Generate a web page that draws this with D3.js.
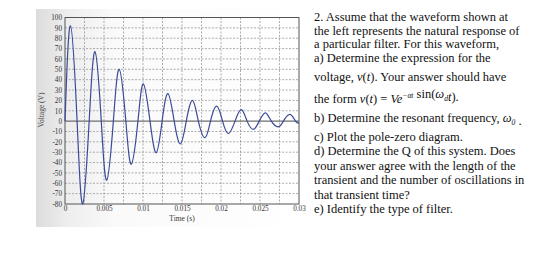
<!DOCTYPE html>
<html>
<head>
<meta charset="utf-8">
<script src="https://cdn.jsdelivr.net/npm/d3@7"></script>
<style>
  body { margin: 0; background: #fff; }
  svg { display: block; }
</style>
</head>
<body>
<script>
// waveform: time in ms, voltage in V (peaks, troughs, zero crossings)
const timeMs = [0, 0.7, 1.55, 2.27, 3.1, 3.85, 4.65, 5.35, 6.2, 6.95, 7.8, 8.5, 9.35, 10.05,
  10.9, 11.7, 12.45, 13.2, 14.0, 14.8, 15.55, 16.35, 17.1, 17.95, 18.65, 19.45, 20.2, 20.95,
  21.8, 22.6, 23.35, 24.15, 24.9, 25.7, 26.45, 27.35, 28.0, 28.85, 29.55, 30];
const voltage = [0, 92, 0, -80, 0, 67, 0, -57, 0, 50, 0, -41.5, 0, 36,
  0, -30.5, 0, 26.5, 0, -22, 0, 20, 0, -16, 0, 14.5, 0, -12,
  0, 11, 0, -8, 0, 8, 0, -5.5, 0, 6.5, 0, -2];

const xTicks = [0, 0.005, 0.01, 0.015, 0.02, 0.025, 0.03];
const xTickLabels = ["0", "0.005", "0.01", "0.015", "0.02", "0.025", "0.03"];
const yTicks = [100, 90, 80, 70, 60, 50, 40, 30, 20, 10, 0, -10, -20, -30, -40, -50, -60, -70, -80];

const width = 560, height = 267;
const plot = { left: 65, right: 299, top: 17.5, bottom: 204 };

const svg = d3.select("body").append("svg")
  .attr("width", width)
  .attr("height", height);

// scanned page shading on the left
const defs = svg.append("defs");
const grad = defs.append("linearGradient").attr("id", "shade");
grad.append("stop").attr("offset", "0").attr("stop-color", "#dcdcdc");
grad.append("stop").attr("offset", "0.12").attr("stop-color", "#eeeeee");
grad.append("stop").attr("offset", "0.3").attr("stop-color", "#fafafa");
grad.append("stop").attr("offset", "1").attr("stop-color", "#ffffff");
svg.append("rect")
  .attr("x", 36).attr("y", 9)
  .attr("width", 266).attr("height", 218)
  .attr("fill", "url(#shade)");

const x = d3.scaleLinear().domain([0, 0.03]).range([plot.left, plot.right]);
const y = d3.scaleLinear().domain([-80, 100]).range([plot.bottom, plot.top]);

// grid
const grid = svg.append("g")
  .attr("stroke", "#8a8a8a")
  .attr("stroke-width", 0.7)
  .attr("stroke-dasharray", "2,1.5");
grid.selectAll("line.gx")
  .data(d3.range(1, 12).map(i => i * 0.0025))
  .join("line")
  .attr("x1", d => x(d)).attr("x2", d => x(d))
  .attr("y1", plot.top).attr("y2", plot.bottom);
grid.selectAll("line.gy")
  .data(yTicks.filter(d => d !== 0 && d !== 100 && d !== -80))
  .join("line")
  .attr("x1", plot.left).attr("x2", plot.right)
  .attr("y1", d => y(d)).attr("y2", d => y(d));

// zero line
svg.append("line")
  .attr("x1", plot.left).attr("x2", plot.right)
  .attr("y1", y(0)).attr("y2", y(0))
  .attr("stroke", "#6e6e6e")
  .attr("stroke-width", 1.1);

// frame
svg.append("rect")
  .attr("x", plot.left).attr("y", plot.top)
  .attr("width", plot.right - plot.left)
  .attr("height", plot.bottom - plot.top)
  .attr("fill", "none")
  .attr("stroke", "#555")
  .attr("stroke-width", 1);

// axes
const axisFont = "'Liberation Serif', 'Times New Roman', serif";
const yAxis = svg.append("g")
  .attr("transform", `translate(${plot.left},0)`)
  .call(d3.axisLeft(y).tickValues(yTicks).tickSize(0).tickPadding(3).tickFormat(d => d));
const xAxis = svg.append("g")
  .attr("transform", `translate(0,${plot.bottom})`)
  .call(d3.axisBottom(x).tickValues(xTicks).tickSize(0).tickPadding(2)
    .tickFormat((d, i) => xTickLabels[i]));
[yAxis, xAxis].forEach(a => {
  a.select(".domain").remove();
  a.selectAll("text")
    .attr("font-family", axisFont)
    .attr("font-size", 7.2)
    .attr("fill", "#333");
});

svg.append("text")
  .attr("x", (plot.left + plot.right) / 2)
  .attr("y", 221)
  .attr("text-anchor", "middle")
  .attr("font-family", axisFont)
  .attr("font-size", 7.5)
  .attr("fill", "#333")
  .text("Time (s)");

svg.append("text")
  .attr("transform", "translate(44,110) rotate(-90)")
  .attr("text-anchor", "middle")
  .attr("font-family", axisFont)
  .attr("font-size", 7.5)
  .attr("fill", "#444")
  .text("Voltage (V)");

// waveform
const line = d3.line()
  .x((d, i) => x(timeMs[i] / 1000))
  .y(d => y(d))
  .curve(d3.curveNatural);

svg.append("path")
  .datum(voltage)
  .attr("d", line)
  .attr("fill", "none")
  .attr("stroke", "#3b4a98")
  .attr("stroke-width", 1.2);

// problem text on the right
const textFont = "'Liberation Serif', 'Times New Roman', serif";
const textX = 314;
const lines = [
  { y: 21, parts: [["2. Assume that the waveform shown at"]] },
  { y: 35, parts: [["the left represents the natural response of"]] },
  { y: 48, parts: [["a particular filter. For this waveform,"]] },
  { y: 62, parts: [["a) Determine the expression for the"]] },
  { y: 81, parts: [["voltage, "], ["v", "i"], ["("], ["t", "i"], [")"], [". Your answer should have"]] },
  { y: 103, parts: [["the form "], ["v", "i"], ["("], ["t", "i"], [")"], [" = "], ["Ve", "i"],
    ["\u2212\u03b1t", "sup"], [" sin"], ["("], ["\u03c9", "i"], ["d", "sub"], ["t", "i"], [")"], ["."]] },
  { y: 122, parts: [["b) Determine the resonant frequency, "], ["\u03c9", "i"], ["0", "sub"], [" ."]] },
  { y: 140.5, parts: [["c) Plot the pole-zero diagram."]] },
  { y: 155, parts: [["d) Determine the Q of this system. Does"]] },
  { y: 169.5, parts: [["your answer agree with the length of the"]] },
  { y: 184, parts: [["transient and the number of oscillations in"]] },
  { y: 198.5, parts: [["that transient time?"]] },
  { y: 212.5, parts: [["e) Identify the type of filter."]] }
];

const txt = svg.append("g")
  .attr("font-family", textFont)
  .attr("font-size", 12.5)
  .attr("fill", "#111");

lines.forEach(l => {
  const t = txt.append("text").attr("x", textX).attr("y", l.y);
  l.parts.forEach(p => {
    const s = t.append("tspan").text(p[0]);
    if (p[1] === "i") s.attr("font-style", "italic");
    if (p[1] === "sup") {
      s.attr("font-size", 7.5).attr("font-style", "italic").attr("dy", -5);
      t.append("tspan").attr("dy", 5).text("");
    }
    if (p[1] === "sub") {
      s.attr("font-size", 7.5).attr("font-style", "italic").attr("dy", 3);
      t.append("tspan").attr("dy", -3).text("");
    }
  });
});
</script>
</body>
</html>
